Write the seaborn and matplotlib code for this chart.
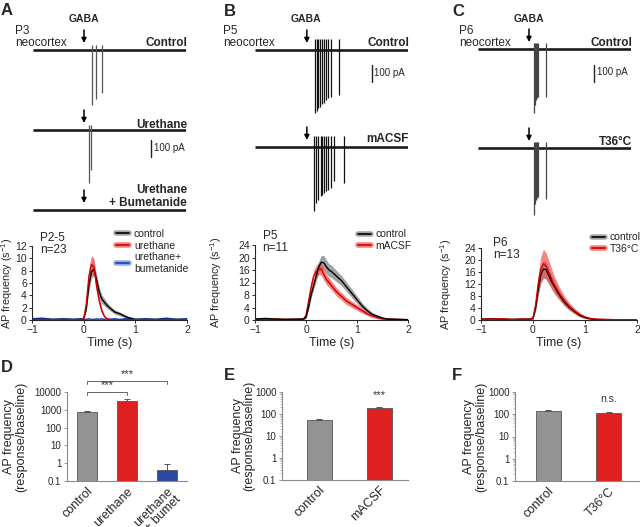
import numpy as np
import pandas as pd
import matplotlib
matplotlib.use('Agg')
import matplotlib.pyplot as plt
import seaborn as sns
from matplotlib.lines import Line2D
from matplotlib.ticker import LogLocator, NullFormatter

W, H = 640, 527

sns.set_style('ticks')
plt.rcParams['font.family'] = ['Liberation Sans', 'DejaVu Sans']
plt.rcParams['mathtext.fontset'] = 'custom'
plt.rcParams['mathtext.rm'] = 'Liberation Sans'
plt.rcParams['mathtext.it'] = 'Liberation Sans:italic'

# ---- example traces: GABA time, spike times (s) and spike depths (pA) ----
gaba_t = [3.0, 3.05, 3.0]
a_ctrl_spk_t = [3.47, 3.70, 4.03]
a_ctrl_spk_amp = [324, 288, 253]
a_ure_spk_t = [3.31, 3.41]
a_ure_spk_amp = [312, 235]
b_ctrl_spk_t = [3.53, 3.63, 3.72, 3.84, 3.96, 4.08, 4.19, 4.31, 4.45, 4.96]
b_ctrl_spk_amp = [371, 359, 341, 335, 318, 312, 294, 282, 276, 265]
b_macsf_spk_t = [3.45, 3.59, 3.72, 3.86, 3.96, 4.08, 4.19, 4.31, 4.45, 4.65, 5.24]
b_macsf_spk_amp = [376, 329, 312, 288, 282, 271, 259, 253, 241, 200, 212]
c_ctrl_spk_t = [3.27, 3.33, 3.39, 3.45, 3.51, 4.02]
c_ctrl_spk_amp = [376, 329, 300, 288, 282, 282]
c_t36_spk_t = [3.27, 3.33, 3.39, 3.45, 3.51, 4.02]
c_t36_spk_amp = [394, 329, 306, 294, 288, 300]
trace_t = [0.0, 9.0]
scale_pA = 100

# ---- AP frequency time courses (s^-1) ----
t_a = [-1.0, -0.8, -0.6, -0.4, -0.2, -0.05, 0.0, 0.05, 0.1, 0.15, 0.2, 0.25, 0.3, 0.35,
       0.4, 0.45, 0.5, 0.6, 0.7, 0.8, 0.9, 1.0, 1.2, 1.4, 1.6, 1.8, 2.0]
a_ctrl = [0.1, 0.1, 0.1, 0.1, 0.1, 0.1, 0.2, 1.8, 5.5, 7.8, 8.2, 6.5, 4.6, 3.4,
          2.9, 2.4, 2.0, 1.3, 1.0, 0.6, 0.3, 0.1, 0.1, 0.1, 0.1, 0.1, 0.1]
a_ctrl_sem = [0.05, 0.05, 0.05, 0.05, 0.05, 0.05, 0.1, 0.4, 0.8, 1.0, 1.0, 0.9, 0.8, 0.7,
              0.6, 0.5, 0.4, 0.35, 0.3, 0.25, 0.15, 0.1, 0.05, 0.05, 0.05, 0.05, 0.05]
a_ure = [0.05, 0.05, 0.05, 0.05, 0.05, 0.05, 0.2, 2.5, 7.0, 9.0, 8.6, 5.5, 3.2, 1.5,
         0.6, 0.2, 0.1, 0.05, 0.05, 0.05, 0.05, 0.05, 0.05, 0.05, 0.05, 0.05, 0.05]
a_ure_sem = [0.03, 0.03, 0.03, 0.03, 0.03, 0.03, 0.1, 0.6, 1.2, 1.4, 1.3, 1.0, 0.7, 0.4,
             0.2, 0.1, 0.05, 0.03, 0.03, 0.03, 0.03, 0.03, 0.03, 0.03, 0.03, 0.03, 0.03]
a_bum = [0.2, 0.3, 0.1, 0.2, 0.1, 0.2, 0.1, 0.1, 0.2, 0.1, 0.1, 0.2, 0.1, 0.2,
         0.1, 0.2, 0.1, 0.2, 0.1, 0.2, 0.3, 0.1, 0.2, 0.1, 0.3, 0.1, 0.2]
a_bum_sem = [0.1, 0.1, 0.1, 0.1, 0.1, 0.1, 0.1, 0.1, 0.1, 0.1, 0.1, 0.1, 0.1, 0.1,
             0.1, 0.1, 0.1, 0.1, 0.1, 0.1, 0.1, 0.1, 0.1, 0.1, 0.1, 0.1, 0.1]

t_b = [-1.0, -0.8, -0.6, -0.4, -0.2, -0.05, 0.0, 0.05, 0.1, 0.15, 0.2, 0.25, 0.3, 0.35, 0.4,
       0.45, 0.5, 0.6, 0.7, 0.8, 0.9, 1.0, 1.1, 1.2, 1.3, 1.4, 1.5, 1.6, 1.8, 2.0]
b_ctrl = [0.3, 0.5, 0.3, 0.2, 0.3, 0.3, 0.8, 4.0, 8.0, 11.0, 14.0, 17.0, 18.5, 18.3, 17.0,
          16.0, 15.5, 14.0, 12.5, 10.5, 8.5, 6.5, 4.5, 3.0, 1.8, 1.2, 0.6, 0.3, 0.2, 0.1]
b_ctrl_sem = [0.2, 0.2, 0.2, 0.2, 0.2, 0.2, 0.3, 0.8, 1.0, 1.2, 1.5, 1.8, 2.2, 2.3, 2.2,
              2.0, 2.0, 1.8, 1.6, 1.5, 1.4, 1.2, 1.0, 0.8, 0.6, 0.5, 0.4, 0.3, 0.2, 0.2]
b_macsf = [0.3, 0.2, 0.3, 0.2, 0.2, 0.3, 1.5, 6.0, 10.5, 14.0, 15.5, 16.5, 16.3, 14.5, 13.0,
           12.0, 11.0, 9.0, 7.5, 6.0, 5.0, 4.0, 3.0, 2.0, 1.3, 0.8, 0.4, 0.3, 0.2, 0.1]
b_macsf_sem = [0.2, 0.2, 0.2, 0.2, 0.2, 0.2, 0.4, 1.2, 1.6, 1.8, 2.0, 2.0, 1.9, 1.8, 1.6,
               1.5, 1.4, 1.3, 1.2, 1.1, 1.0, 0.9, 0.8, 0.6, 0.5, 0.4, 0.3, 0.2, 0.2, 0.2]

t_c = [-1.0, -0.8, -0.6, -0.4, -0.2, -0.05, 0.0, 0.05, 0.1, 0.15, 0.2, 0.25, 0.3, 0.35,
       0.4, 0.5, 0.6, 0.7, 0.8, 0.9, 1.0, 1.1, 1.2, 1.4, 1.6, 1.8, 2.0]
c_ctrl = [0.3, 0.4, 0.3, 0.2, 0.3, 0.3, 0.5, 4.0, 10.0, 15.0, 17.0, 16.8, 15.0, 13.0,
          11.5, 8.5, 6.0, 4.2, 2.8, 1.5, 0.8, 0.4, 0.2, 0.1, 0.1, 0.1, 0.1]
c_ctrl_sem = [0.2, 0.2, 0.2, 0.2, 0.2, 0.2, 0.3, 1.0, 2.0, 2.8, 3.0, 3.0, 2.6, 2.2,
              2.0, 1.5, 1.2, 1.0, 0.7, 0.5, 0.3, 0.2, 0.2, 0.1, 0.1, 0.1, 0.1]
c_t36 = [0.3, 0.3, 0.4, 0.2, 0.3, 0.3, 0.8, 5.0, 12.0, 17.0, 18.8, 18.0, 16.0, 14.0,
         12.0, 9.0, 6.5, 4.5, 3.0, 1.8, 1.0, 0.5, 0.3, 0.2, 0.1, 0.1, 0.1]
c_t36_sem = [0.2, 0.2, 0.2, 0.2, 0.2, 0.2, 0.4, 1.5, 3.0, 4.2, 4.8, 4.5, 4.0, 3.5,
             3.0, 2.2, 1.6, 1.2, 0.9, 0.6, 0.4, 0.3, 0.2, 0.1, 0.1, 0.1, 0.1]

# ---- response/baseline ratios ----
d_labels = ['control', 'urethane', 'urethane\n+ bumet']
d_vals = [750, 3000, 0.42]
d_sem = [100, 1000, 0.45]
e_labels = ['control', 'mACSF']
e_vals = [54, 182]
e_sem = [4, 25]
f_labels = ['control', 'T36°C']
f_vals = [140, 110]
f_sem = [15, 20]

GREY, RED, BLUE = '#939393', '#ff0000', '#1a3cb8'
BAND_GREY, BAND_RED, BAND_BLUE = '#8a8a8a', '#f25555', '#6f8fd6'

fig = plt.figure(figsize=(6.4, 5.27), dpi=100)


def rect(x0, y0, x1, y1):
    return [x0 / W, 1 - y1 / H, (x1 - x0) / W, (y1 - y0) / H]


def ftext(x, y, s, **kw):
    fig.text(x / W, 1 - y / H, s, **kw)


# ---------------- example traces ----------------
PX_PER_PA = 0.17


def trace_ax(x0, x1, base_y, spk_t, spk_amp, up, t_gaba, spk_color='#333333'):
    ax = fig.add_axes(rect(x0, base_y - 20, x1, base_y + 80))
    ax.set_xlim(trace_t)
    ax.set_ylim(-80 / PX_PER_PA, 20 / PX_PER_PA)
    ax.axis('off')
    ax.patch.set_alpha(0)
    ax.plot(trace_t, [0, 0], color='#1a1a1a', lw=1.9, solid_capstyle='butt')
    if spk_t:
        ax.vlines(spk_t, -np.array(spk_amp), up, color=spk_color, lw=0.9)
    ax.annotate('', xy=(t_gaba, 7 / PX_PER_PA), xytext=(t_gaba, 20 / PX_PER_PA),
                arrowprops=dict(arrowstyle='-|>', lw=1.1, color='k', mutation_scale=7,
                                shrinkA=0, shrinkB=0),
                annotation_clip=False)
    return ax


# panel A
trace_ax(33, 186, 50, a_ctrl_spk_t, a_ctrl_spk_amp, 30, gaba_t[0], '#555555')
ax_aure = trace_ax(33, 186, 130, a_ure_spk_t, a_ure_spk_amp, 30, gaba_t[0], '#555555')
ax_aure.plot([6.92, 6.92], [-60, -60 - scale_pA], color='#222222', lw=1)
trace_ax(33, 186, 210, [], [], 0, gaba_t[0])

# panel B
ax_bc = trace_ax(255, 408, 50, b_ctrl_spk_t, b_ctrl_spk_amp, 65, gaba_t[1], '#111111')
ax_bc.plot([6.86, 6.86], [-88, -88 - scale_pA], color='#222222', lw=1)
trace_ax(255, 408, 147, b_macsf_spk_t, b_macsf_spk_amp, 62, gaba_t[1], '#111111')

# panel C
ax_cc = trace_ax(478, 631, 49, c_ctrl_spk_t, c_ctrl_spk_amp, 35, gaba_t[2], '#444444')
ax_cc.plot([6.82, 6.82], [-94, -94 - scale_pA], color='#222222', lw=1)
trace_ax(478, 631, 148, c_t36_spk_t, c_t36_spk_amp, 35, gaba_t[2], '#444444')

# trace text
for x, y, s in [(1, 3, 'A'), (224, 4, 'B'), (452, 4, 'C'),
                (1, 360, 'D'), (224, 368, 'E'), (452, 368, 'F')]:
    ftext(x, y, s, fontsize=12, fontweight='bold', va='top', ha='left')
for x, s in [(84, 'GABA'), (306, 'GABA'), (529, 'GABA')]:
    ftext(x, 19, s, fontsize=7.5, fontweight='bold', ha='center', va='center')
for x, s in [(15, 'P3\nneocortex'), (223, 'P5\nneocortex'), (459, 'P6\nneocortex')]:
    ftext(x, 25, s, fontsize=8.5, ha='left', va='top', linespacing=0.95)
for x, y, s in [(187, 46, 'Control'), (187, 128, 'Urethane'),
                (187, 206, 'Urethane\n+ Bumetanide'),
                (409, 46, 'Control'), (409, 142, 'mACSF'),
                (632, 46, 'Control'), (632, 145, 'T36°C')]:
    ftext(x, y, s, fontsize=8.5, fontweight='bold', ha='right', va='baseline',
          linespacing=1.1)
for x, y in [(154, 148), (374, 73), (597, 72)]:
    ftext(x, y, '100 pA', fontsize=7, ha='left', va='center')

# ---------------- AP frequency time courses ----------------


def rate_ax(px, ymax, yticks):
    ax = fig.add_axes(rect(*px))
    ax.set_xlim(-1, 2)
    ax.set_ylim(0, ymax)
    ax.set_xticks([-1, 0, 1, 2])
    ax.set_yticks(yticks)
    sns.despine(ax=ax)
    ax.tick_params(labelsize=7.5, length=2.5, width=0.7, pad=1.2)
    for sp in ['left', 'bottom']:
        ax.spines[sp].set_linewidth(0.8)
    ax.set_xlabel('Time (s)', fontsize=9)
    ax.xaxis.set_label_coords(0.5, -0.23)
    ax.set_ylabel('AP frequency (s$^{-1}$)', fontsize=7.8)
    return ax


def band(ax, t, m, s, color, alpha):
    m = np.array(m)
    s = np.array(s)
    ax.fill_between(t, np.clip(m - s, 0, None), m + s, color=color, alpha=alpha, lw=0)


def legend(ax, entries, anchor):
    handles = [(Line2D([], [], color=bc, lw=4, alpha=0.75), Line2D([], [], color=lc, lw=1.2))
               for lc, bc, _ in entries]
    ax.legend(handles, [e[2] for e in entries], loc='upper left', bbox_to_anchor=anchor,
              frameon=False, fontsize=7.5, handlelength=1.3, handletextpad=0.45,
              labelspacing=0.15, borderpad=0, borderaxespad=0)


ax = rate_ax((32, 246, 187, 320), 12, [0, 2, 4, 6, 8, 10, 12])
ax.yaxis.set_label_coords(-0.108, 0.5)
band(ax, t_a, a_bum, a_bum_sem, BAND_BLUE, 0.8)
band(ax, t_a, a_ctrl, a_ctrl_sem, BAND_GREY, 0.8)
band(ax, t_a, a_ure, a_ure_sem, BAND_RED, 0.85)
sns.lineplot(x=t_a, y=a_bum, color=BLUE, lw=1, ax=ax)
sns.lineplot(x=t_a, y=a_ctrl, color='k', lw=1, ax=ax)
sns.lineplot(x=t_a, y=a_ure, color='#d00000', lw=1, ax=ax)
legend(ax, [('k', BAND_GREY, 'control'), ('#d00000', BAND_RED, 'urethane'),
            (BLUE, BAND_BLUE, 'urethane+\nbumetanide')], (0.54, 1.23))
ax.text(0.05, 1.19, 'P2-5\nn=23', transform=ax.transAxes, fontsize=8.5, va='top',
        linespacing=1.0)

ax = rate_ax((255, 245, 408, 320), 24, [0, 4, 8, 12, 16, 20, 24])
ax.yaxis.set_label_coords(-0.2, 0.5)
band(ax, t_b, b_ctrl, b_ctrl_sem, BAND_GREY, 0.8)
band(ax, t_b, b_macsf, b_macsf_sem, BAND_RED, 0.75)
sns.lineplot(x=t_b, y=b_macsf, color='#d00000', lw=1, ax=ax)
sns.lineplot(x=t_b, y=b_ctrl, color='k', lw=1, ax=ax)
legend(ax, [('k', BAND_GREY, 'control'), ('#d00000', BAND_RED, 'mACSF')], (0.67, 1.21))
ax.text(0.05, 1.2, 'P5\nn=11', transform=ax.transAxes, fontsize=8.5, va='top',
        linespacing=1.0)

ax = rate_ax((481, 248, 637, 320), 24, [0, 4, 8, 12, 16, 20, 24])
ax.yaxis.set_label_coords(-0.17, 0.5)
band(ax, t_c, c_ctrl, c_ctrl_sem, BAND_GREY, 0.8)
band(ax, t_c, c_t36, c_t36_sem, BAND_RED, 0.7)
sns.lineplot(x=t_c, y=c_ctrl, color='k', lw=1, ax=ax)
sns.lineplot(x=t_c, y=c_t36, color='#d00000', lw=1, ax=ax)
legend(ax, [('k', BAND_GREY, 'control'), ('#d00000', BAND_RED, 'T36°C')], (0.71, 1.22))
ax.text(0.08, 1.15, 'P6\nn=13', transform=ax.transAxes, fontsize=8.5, va='top',
        linespacing=1.0)

# ---------------- bar charts ----------------


def bar_ax(px, labels, vals, sem, colors, ymax, xlim, width):
    ax = fig.add_axes(rect(*px))
    df = pd.DataFrame({'cond': labels, 'val': vals})
    sns.barplot(data=df, x='cond', y='val', hue='cond', palette=dict(zip(labels, colors)),
                legend=False, width=width, errorbar=None, edgecolor='#555555',
                linewidth=0.6, ax=ax)
    ax.errorbar(range(len(vals)), vals, yerr=[np.zeros(len(vals)), sem], fmt='none',
                ecolor='#555555', elinewidth=0.7, capsize=2.5, capthick=0.7)
    ax.set_yscale('log')
    ax.set_ylim(0.1, ymax)
    ax.set_xlim(xlim)
    ticks = [10.0 ** k for k in range(-1, int(np.log10(ymax)) + 1)]
    ax.set_yticks(ticks)
    ax.set_yticklabels(['0.1' if v < 1 else str(int(v)) for v in ticks])
    ax.yaxis.set_minor_locator(LogLocator(base=10, subs=np.arange(2, 10)))
    ax.yaxis.set_minor_formatter(NullFormatter())
    sns.despine(ax=ax)
    for sp in ['left', 'bottom']:
        ax.spines[sp].set_color('#8a8a8a')
        ax.spines[sp].set_linewidth(0.8)
    ax.tick_params(axis='y', which='major', labelsize=7, length=2.5, width=0.6,
                   color='#8a8a8a', pad=1.5)
    ax.tick_params(axis='y', which='minor', length=1.2, width=0.4, color='#9a9a9a')
    ax.tick_params(axis='x', length=0, pad=3)
    ax.set_xticks(range(len(labels)))
    ax.set_xticklabels(labels, rotation=45, ha='right', rotation_mode='anchor',
                       fontsize=9, linespacing=0.95)
    ax.set_xlabel('')
    ax.set_ylabel('AP frequency\n(response/baseline)', fontsize=9, linespacing=1.0)
    return ax


ax = bar_ax((67, 392, 187, 481), d_labels, d_vals, d_sem, [GREY, RED, BLUE], 10000,
            (-0.5, 2.5), 0.5)
ax.yaxis.set_label_coords(-0.33, 0.5)
tr = ax.get_xaxis_transform()
ax.plot([0, 0, 1, 1], [0.965, 1.0, 1.0, 0.965], color='#666666', lw=0.7, transform=tr,
        clip_on=False)
ax.plot([0, 0, 2, 2], [1.09, 1.124, 1.124, 1.09], color='#666666', lw=0.7, transform=tr,
        clip_on=False)
ax.text(0.5, 1.02, '***', transform=tr, ha='center', va='bottom', fontsize=8,
        color='#333333')
ax.text(1.0, 1.145, '***', transform=tr, ha='center', va='bottom', fontsize=8,
        color='#333333')

ax = bar_ax((282, 392, 408, 480), e_labels, e_vals, e_sem, [GREY, RED], 1000,
            (-0.62, 1.48), 0.42)
ax.yaxis.set_label_coords(-0.21, 0.5)
ax.text(1, 0.91, '***', transform=ax.get_xaxis_transform(), ha='center', va='bottom',
        fontsize=8, color='#333333')

ax = bar_ax((515, 392, 640, 481), f_labels, f_vals, f_sem, [GREY, RED], 1000,
            (-0.55, 1.52), 0.42)
ax.yaxis.set_label_coords(-0.225, 0.5)
ax.text(1, 0.86, 'n.s.', transform=ax.get_xaxis_transform(), ha='center', va='bottom',
        fontsize=7.5, color='#333333')

fig.savefig('out.png', dpi=100)
